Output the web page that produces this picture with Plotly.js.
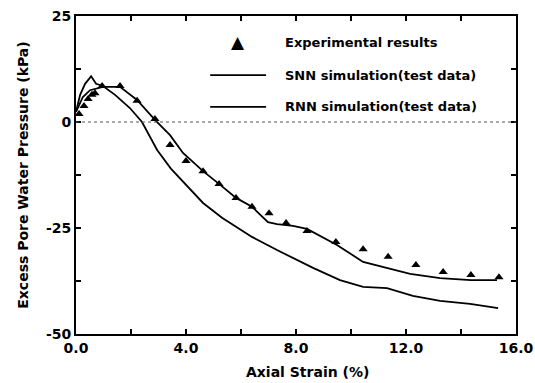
<!DOCTYPE html>
<html>
<head>
<meta charset="utf-8">
<script src="https://cdn.plot.ly/plotly-3.0.1.min.js"></script>
<style>
  html, body { margin: 0; padding: 0; background: #fff; }
  #chart { width: 535px; height: 383px; }
</style>
</head>
<body>
<div id="chart"></div>
<script>
// Experimental results: axial strain (%) vs excess pore water pressure (kPa)
const expStrain = [0.11, 0.29, 0.44, 0.58, 0.69, 0.95, 1.6, 2.22, 2.87, 3.42, 4.0, 4.62,
  5.2, 5.82, 6.4, 7.02, 7.64, 8.4, 9.45, 10.44, 11.35, 12.36, 13.35, 14.36, 15.38];
const expPressure = [1.9, 3.8, 5.4, 6.4, 6.8, 8.5, 8.5, 5.0, 0.7, -5.4, -9.2, -11.6,
  -14.6, -17.9, -20.0, -21.5, -23.8, -25.7, -28.3, -30.0, -31.8, -33.7, -35.4, -36.1, -36.6];

// SNN simulation (test data)
const snnStrain = [0, 0.15, 0.33, 0.55, 0.73, 0.98, 1.42, 1.96, 2.4, 2.69, 2.95, 3.45, 4.0,
  4.62, 5.31, 5.82, 6.4, 7.31, 8.0, 8.62, 9.6, 10.44, 11.31, 12.25, 13.24, 14.33, 15.35];
const snnPressure = [2.4, 6.4, 9.0, 10.8, 9.0, 8.5, 6.4, 3.3, 0, -3.5, -6.6, -11.0, -14.8,
  -19.1, -22.6, -24.8, -27.1, -30.2, -32.5, -34.4, -37.3, -38.9, -39.2, -41.0, -42.2, -42.9, -43.9];

// RNN simulation (test data)
const rnnStrain = [0, 0.25, 0.51, 0.98, 1.6, 2.22, 2.87, 3.42, 3.89, 4.62, 5.2, 5.82, 6.4,
  6.98, 7.31, 7.89, 8.4, 8.87, 9.49, 10.44, 11.31, 12.15, 13.24, 14.36, 15.31];
const rnnPressure = [2.4, 5.9, 7.5, 8.3, 8.3, 5.2, 0.5, -3.1, -7.3, -11.6, -14.6, -17.9, -20.0,
  -23.6, -24.1, -24.5, -25.2, -26.9, -29.0, -33.0, -34.4, -35.8, -36.8, -37.3, -37.3];

// Axis ticks
const xTickVals = [0, 2, 4, 6, 8, 10, 12, 14, 16];
const xTickText = ['0.0', '', '4.0', '', '8.0', '', '12.0', '', '16.0'];
const yTickVals = [-50, -37.5, -25, -12.5, 0, 12.5, 25];
const yTickText = ['-50', '', '-25', '', '0', '', '25'];

// Legend labels
const legendLabels = ['Experimental results', 'SNN simulation(test data)', 'RNN simulation(test data)'];

const FONT = 'DejaVu Sans, sans-serif';

const traces = [
  {
    x: snnStrain, y: snnPressure, mode: 'lines', name: legendLabels[1],
    line: { color: '#000', width: 1.8 }, showlegend: false
  },
  {
    x: rnnStrain, y: rnnPressure, mode: 'lines', name: legendLabels[2],
    line: { color: '#000', width: 1.8 }, showlegend: false
  },
  {
    x: expStrain, y: expPressure, mode: 'markers', name: legendLabels[0],
    marker: { symbol: 'triangle-up', size: 8, color: '#000' }, showlegend: false
  }
];

// Hand-built legend: marker/line samples plus labels
const legendRows = [0.918, 0.814, 0.714];
const annotations = legendLabels.map((t, i) => ({
  xref: 'paper', yref: 'paper', x: 0.47, y: legendRows[i],
  xanchor: 'left', yanchor: 'middle', showarrow: false,
  text: t, font: { family: FONT, size: 13, color: '#000', weight: 'bold' }
}));
annotations.push({
  xref: 'paper', yref: 'paper', x: 0.368, y: legendRows[0],
  xanchor: 'center', yanchor: 'middle', showarrow: false,
  text: '▲', font: { family: FONT, size: 17, color: '#000' }
});
annotations.push({
  xref: 'paper', yref: 'paper', x: 0.527, y: -0.118,
  xanchor: 'center', yanchor: 'middle', showarrow: false,
  text: 'Axial Strain (%)', font: { family: FONT, size: 14, color: '#000', weight: 'bold' }
});

const shapes = [
  // dotted zero reference line
  { type: 'line', xref: 'paper', yref: 'y', x0: 0, x1: 1, y0: 0, y1: 0,
    line: { color: '#555', width: 1, dash: 'dot' } },
  { type: 'line', xref: 'paper', yref: 'paper', x0: 0.305, x1: 0.432,
    y0: legendRows[1], y1: legendRows[1], line: { color: '#000', width: 1.8 } },
  { type: 'line', xref: 'paper', yref: 'paper', x0: 0.305, x1: 0.432,
    y0: legendRows[2], y1: legendRows[2], line: { color: '#000', width: 1.8 } }
];

const axisCommon = {
  showgrid: false, zeroline: false, showline: true, linecolor: '#000', linewidth: 2,
  mirror: 'ticks', ticks: 'inside', ticklen: 5, tickwidth: 1.5, tickcolor: '#000',
  tickfont: { family: FONT, size: 14, color: '#000', weight: 'bold' }, tickmode: 'array'
};

const layout = {
  width: 535, height: 383,
  margin: { l: 76, r: 19, t: 16, b: 49 },
  paper_bgcolor: '#fff', plot_bgcolor: '#fff',
  xaxis: Object.assign({}, axisCommon, {
    range: [0, 16], tickvals: xTickVals, ticktext: xTickText
  }),
  yaxis: Object.assign({}, axisCommon, {
    range: [-50, 25], tickvals: yTickVals, ticktext: yTickText,
    title: { text: 'Excess Pore Water Pressure (kPa)', standoff: 14,
      font: { family: FONT, size: 14, color: '#000', weight: 'bold' } }
  }),
  annotations: annotations,
  shapes: shapes,
  showlegend: false
};

Plotly.newPlot('chart', traces, layout, { displayModeBar: false, staticPlot: true });
</script>
</body>
</html>
